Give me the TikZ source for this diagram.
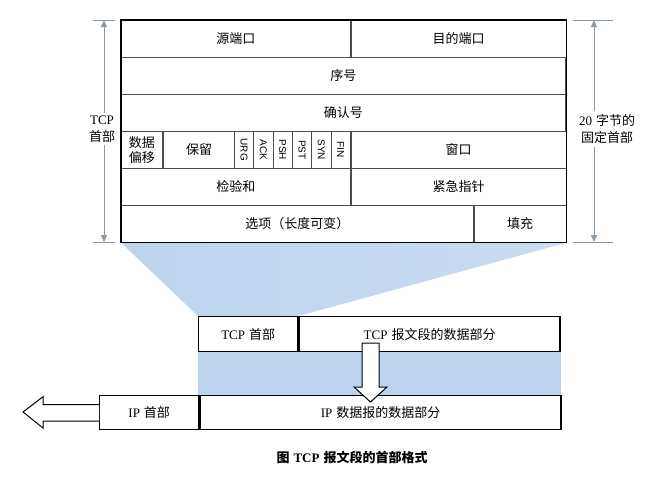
\documentclass[tikz,border=0pt]{standalone}
\usepackage{fontspec}
\setmainfont{Liberation Serif}
\newfontfamily\cjk{Noto Sans CJK SC}
\newfontfamily\flagfont{Liberation Sans}
\usepackage{xcolor}
\usepackage{tikz}
\usetikzlibrary{calc,positioning}
\usetikzlibrary{arrows.meta}
\definecolor{dimgray}{RGB}{140,154,166}
\definecolor{segblue}{RGB}{189,211,237}
\definecolor{segblueL}{RGB}{202,220,241}
\newcommand{\lat}[1]{{\rmfamily #1}\hspace{4pt}}
\tikzstyle{cell} = [draw=black!70, line width=0.7pt, fill=white, minimum height=37pt,
	inner sep=0pt, anchor=north west, font=\fontsize{13}{15}\selectfont\cjk, align=center]
\tikzstyle{seg} = [draw=black, line width=1.4pt, fill=white, minimum height=35pt,
	inner sep=0pt, anchor=north west, font=\fontsize{13}{15}\selectfont\cjk]
\tikzstyle{dim} = [dimgray, line width=1pt]
\tikzstyle{hollow} = [draw=black, line width=1pt, fill=white, line join=miter]
\pgfdeclarelayer{background}
\pgfsetlayers{background,main}

\begin{document}
\begin{tikzpicture}[x=1pt,y=-1pt,>={Triangle[length=7pt,width=6pt]}]
   \useasboundingbox (0,0) rectangle (658,488);
   % TCP header rows
   \node[cell, minimum width=229pt] (src) at (121,20) {源端口};
   \node[cell, minimum width=215pt, right=0pt of src] (dst) {目的端口};
   \node[cell, minimum width=444pt] (seq) at (121,57) {序号};
   \node[cell, minimum width=444pt] (ack) at (121,94) {确认号};
   \node[cell, minimum width=41pt] (off) at (121,131) {数据\\偏移};
   \node[cell, minimum width=72pt, right=0pt of off] (rsv) {保留};
   \foreach \f [count=\i from 0] in {URG,ACK,PSH,PST,SYN,FIN}
      \node[cell, minimum width=19.33pt] (\f) at ({234+19.33*\i},131) {\rotatebox{-90}{\flagfont\fontsize{10}{10}\selectfont\f}};
   \node[cell, minimum width=215pt, right=0pt of FIN] (win) {窗口};
   \node[cell, minimum width=229pt] (chk) at (121,168) {检验和};
   \node[cell, minimum width=215pt, right=0pt of chk] (urg) {紧急指针};
   \node[cell, minimum width=352pt] (opt) at (121,205) {选项（长度可变）};
   \node[cell, minimum width=92pt, right=0pt of opt] (pad) {填充};
   \draw[line width=1.2pt] (src.north west) rectangle (pad.south east);

   % segment and datagram
   \node[seg, minimum width=99pt] (tcphdr) at (198,316) {\lat{TCP}首部};
   \node[seg, minimum width=261pt, right=0pt of tcphdr] (tcpdata) {\lat{TCP}报文段的数据部分};
   \node[seg, minimum width=99pt, minimum height=34pt] (iphdr) at (99,395) {\lat{IP}首部};
   \node[seg, minimum width=361pt, minimum height=34pt, right=0pt of iphdr] (ipdata) {\lat{IP}数据报的数据部分};

   \begin{pgfonlayer}{background}
      \shade[left color=segblue, right color=segblueL] (opt.south west) -- (pad.south east)
         -- (tcphdr.north east) -- (tcphdr.north west) -- cycle;
      \fill[segblue] (tcphdr.south west) rectangle (ipdata.north -| tcpdata.east);
   \end{pgfonlayer}

   % hollow arrows
   \coordinate (dtail) at (370.5,343);
   \coordinate (dtip) at (370.5,402);
   \draw[hollow] (dtail) ++(-8.5,0) -- ++(17,0) -- ++(0,44) -- ++(8,0) -- (dtip)
      -- ++(-16.5,-15) -- ++(8,0) -- cycle;
   \coordinate (ltip) at (23,412);
   \draw[hollow] ($(iphdr.west)+(0,-8)$) -- ++(-56,0) -- ++(0,-8) -- (ltip)
      -- ++(20,16) -- ++(0,-7) -- ++(56,0);

   % header length marks
   \coordinate (lt) at (104,20);
   \coordinate (lb) at (104,242);
   \coordinate (rt) at (594,20);
   \coordinate (rb) at (594,242);
   \draw[dim] ($(lt)+(-11,0)$) -- ++(22,0);
   \draw[dim] ($(lb)+(-11,0)$) -- ++(22,0);
   \draw[dim] ($(rt)+(-21,0)$) -- ++(40,0);
   \draw[dim] ($(rb)+(-21,0)$) -- ++(40,0);
   \draw[dim,<->] (lt) -- (lb);
   \draw[dim,<->] (rt) -- (rb);
   \node[fill=white, align=center, inner sep=3pt, font=\fontsize{13}{17}\selectfont\cjk] (tcplbl) at (102,129) {{\rmfamily TCP}\\首部};
   \node[fill=white, align=center, inner sep=3pt, font=\fontsize{13}{17}\selectfont\cjk] (fixlbl) at (607,129) {\lat{20}字节的\\固定首部};

   % caption
   \node[font=\fontsize{13}{15}\selectfont\cjk\bfseries] (cap) at (352,457) {图\hspace{4pt}\lat{\bfseries TCP}报文段的首部格式};
\end{tikzpicture}
\end{document}
